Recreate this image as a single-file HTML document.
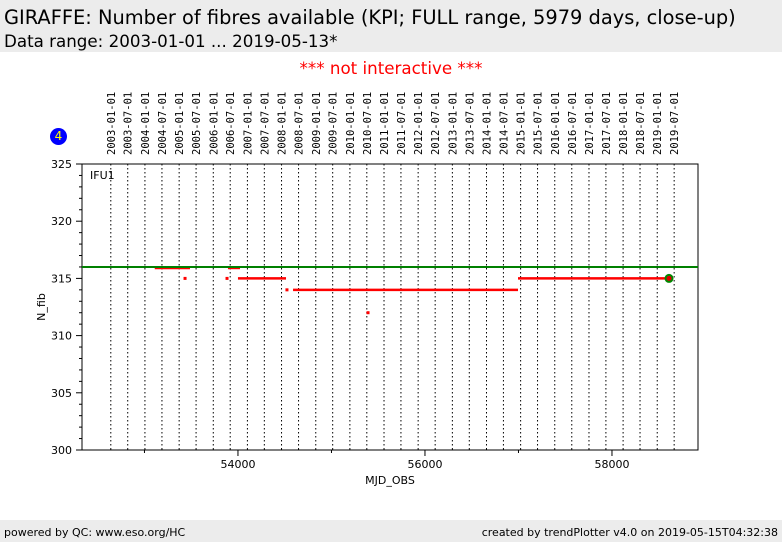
<!DOCTYPE html>
<html><head><meta charset="utf-8"><style>
body{margin:0;width:782px;height:542px;background:#fff;font-family:"DejaVu Sans","Liberation Sans",sans-serif;position:relative;overflow:hidden}
.hdr{position:absolute;left:0;top:0;width:782px;height:52px;background:#ececec}
.ftr{position:absolute;left:0;top:520px;width:782px;height:22px;background:#ececec;font-size:11px}
</style></head><body>
<div class="hdr">
<div style="position:absolute;left:4px;top:6px;font-size:19.4px;white-space:nowrap">GIRAFFE: Number of fibres available (KPI; FULL range, 5979 days, close-up)</div>
<div style="position:absolute;left:4px;top:31px;font-size:16.7px;white-space:nowrap">Data range: 2003-01-01 ... 2019-05-13*</div>
</div>
<div style="position:absolute;left:0;width:782px;top:58px;text-align:center;color:#f00;font-size:16.7px">*** not interactive ***</div>
<div style="position:absolute;left:50px;top:128px;width:17px;height:17px;border-radius:50%;background:#00f;color:#ff0;font-size:12px;text-align:center;line-height:17px">4</div>
<div class="ftr">
<span style="position:absolute;left:4px;top:6px;white-space:nowrap">powered by QC: www.eso.org/HC</span>
<span style="position:absolute;right:4px;top:6px;white-space:nowrap">created by trendPlotter v4.0 on 2019-05-15T04:32:38</span>
</div>
<svg id="chart" width="782" height="542" style="position:absolute;left:0;top:0"></svg>
<script>
const yTicks=[300,305,310,315,320,325];
const xTicks=[54000,56000,58000];
const xMinorTicks=[53000,54000,55000,56000,57000,58000];
const dateLabels=[];for(let y=2003;y<=2019;y++){dateLabels.push(y+"-01-01");dateLabels.push(y+"-07-01");}
const refValue=316;
const segStart=[53110,53893,54000,54589,56995];
const segEnd=[53487,54022,54514,56995,58600];
const segValue=[316,316,315,314,315];
const pointMjd=[53434,53883,54524,55391];
const pointValue=[315,315,314,312];
const lastMjd=58610, lastValue=315;
const L=82,R=698,T=164,B=450,XMIN=52332,XMAX=58920,YMIN=300,YMAX=325;
const sx=v=>L+(v-XMIN)/(XMAX-XMIN)*(R-L);
const sy=v=>B-(v-YMIN)/(YMAX-YMIN)*(B-T);
const toMjd=s=>Date.parse(s+"T00:00:00Z")/86400000+40587;
const svg=document.getElementById('chart');const NS="http://www.w3.org/2000/svg";
function mk(t,a,txt){const e=document.createElementNS(NS,t);for(const k in a)e.setAttribute(k,a[k]);if(txt!=null)e.textContent=txt;svg.appendChild(e);return e;}
let e;
dateLabels.forEach(d=>{const x=sx(toMjd(d));
e=mk('line',{x1:x,x2:x,y1:T,y2:B,stroke:'#000','stroke-width':1,'stroke-dasharray':'1.5,2.5'});

e=mk('text',{x:0,y:0,transform:`translate(${x+4},155) rotate(-90)`,'font-family':'DejaVu Sans Mono, Liberation Mono, monospace','font-size':10.5},d);
});
e=mk('rect',{x:L,y:T,width:R-L,height:B-T,fill:'none',stroke:'#000','stroke-width':1});

for(let v=YMIN;v<=YMAX;v++){const y=sy(v);const maj=v%5==0;
e=mk('line',{x1:L-(maj?6:3),x2:L,y1:y,y2:y,stroke:'#000'});}
yTicks.forEach(v=>{e=mk('text',{x:L-10,y:sy(v)+4,'text-anchor':'end','font-size':11},v);});
xMinorTicks.forEach(v=>{const x=sx(v);const maj=xTicks.includes(v);e=mk('line',{x1:x,x2:x,y1:B,y2:B+(maj?6:3),stroke:'#000'});});
xTicks.forEach(v=>{e=mk('text',{x:sx(v),y:B+18,'text-anchor':'middle','font-size':11},v);});
e=mk('text',{x:390,y:484,'text-anchor':'middle','font-size':11},'MJD_OBS');
e=mk('text',{x:0,y:0,transform:'translate(45,307) rotate(-90)','text-anchor':'middle','font-size':11},'N_fib');
e=mk('text',{x:90,y:179,'font-size':11},'IFU1');
segStart.forEach((s,i)=>{e=mk('line',{x1:sx(s),x2:sx(segEnd[i]),y1:sy(segValue[i])+(segValue[i]==refValue?1:0),y2:sy(segValue[i])+(segValue[i]==refValue?1:0),stroke:'#f00','stroke-width':2.5});});
e=mk('line',{x1:L,x2:R,y1:sy(refValue),y2:sy(refValue),stroke:'#008000','stroke-width':2});
pointMjd.forEach((m,i)=>{e=mk('rect',{x:sx(m)-1.5,y:sy(pointValue[i])-1.5,width:3,height:3,fill:'#f00'});});
e=mk('circle',{cx:sx(lastMjd),cy:sy(lastValue),r:3.5,fill:'#d00',stroke:'#080','stroke-width':2});
</script>
</body></html>
